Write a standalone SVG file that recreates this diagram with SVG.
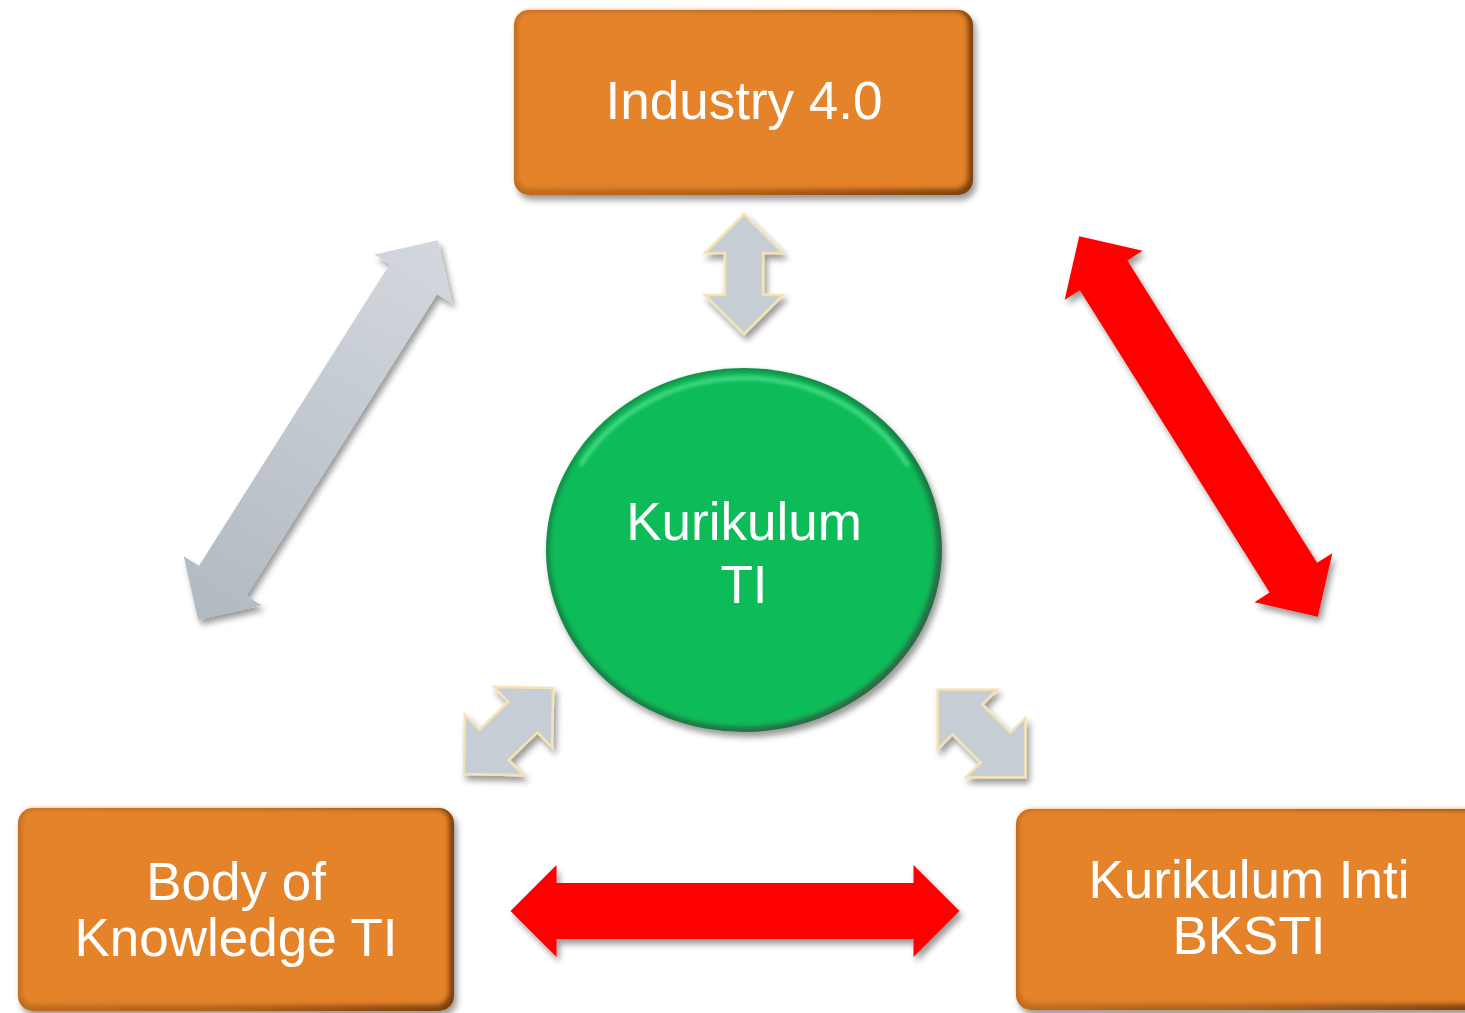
<svg xmlns="http://www.w3.org/2000/svg" xmlns:xlink="http://www.w3.org/1999/xlink" width="1465" height="1013" viewBox="0 0 1465 1013">
  <style>
    .label { font-family: "Liberation Sans", Arial, sans-serif; font-size: 53px; fill: #ffffff; text-anchor: middle; }
    .box-rim { fill: url(#boxRim); }
    .box-body { fill: #e4832a; filter: url(#soft); }
    .box-hl { fill: none; stroke: #f8b46c; stroke-width: 4; stroke-linecap: round; opacity: 0.85; filter: url(#softer); }
    .red { fill: #ff0000; }
    .gray { fill: url(#grayGrad); }
    .small { fill: #c6cdd5; stroke: #f3e3b4; stroke-width: 2.5; stroke-linejoin: miter; }
  </style>
  <defs>
    <filter id="shadow" x="-20%" y="-20%" width="140%" height="140%">
      <feGaussianBlur in="SourceAlpha" stdDeviation="3"/>
      <feOffset dx="3" dy="5" result="o"/>
      <feComponentTransfer><feFuncA type="linear" slope="0.4"/></feComponentTransfer>
      <feMerge><feMergeNode/><feMergeNode in="SourceGraphic"/></feMerge>
    </filter>
    <filter id="soft" x="-5%" y="-5%" width="110%" height="110%">
      <feGaussianBlur stdDeviation="2.5"/>
    </filter>
    <filter id="softer" x="-5%" y="-50%" width="110%" height="200%">
      <feGaussianBlur stdDeviation="1.5"/>
    </filter>
    <linearGradient id="boxRim" x1="0" y1="0" x2="1" y2="0">
      <stop offset="0" stop-color="#c06a1e"/>
      <stop offset="0.5" stop-color="#b0601a"/>
      <stop offset="1" stop-color="#7e400e"/>
    </linearGradient>
    <linearGradient id="grayGrad" x1="0" y1="0" x2="1" y2="0">
      <stop offset="0" stop-color="#b1b9c1"/>
      <stop offset="1" stop-color="#d3d8de"/>
    </linearGradient>
    <linearGradient id="circleRim" x1="0" y1="0" x2="1" y2="1">
      <stop offset="0" stop-color="#14934a"/>
      <stop offset="0.6" stop-color="#1c7a45"/>
      <stop offset="1" stop-color="#3c5a48"/>
    </linearGradient>
    <!-- double-headed block arrows, centred on the origin -->
    <path id="bigArrow" d="M-224.5,0 L-178.5,-46 L-178.5,-28 L178.5,-28 L178.5,-46 L224.5,0 L178.5,46 L178.5,28 L-178.5,28 L-178.5,46 Z"/>
    <path id="smallArrowV" d="M0,-60 L39,-21 L19,-21 L19,21 L39,21 L0,60 L-39,21 L-19,21 L-19,-21 L-39,-21 Z"/>
    <path id="smallArrowD" d="M0,-62 L42,-20 L21,-20 L21,20 L42,20 L0,62 L-42,20 L-21,20 L-21,-20 L-42,-20 Z"/>
  </defs>

  <rect width="1465" height="1013" fill="#ffffff"/>

  <g id="connectors">
    <g filter="url(#shadow)">
      <use xlink:href="#bigArrow" class="gray" transform="translate(318,430) rotate(-57.7)"/>
    </g>
    <g filter="url(#shadow)">
      <use xlink:href="#bigArrow" class="red" transform="translate(1198.5,426.5) rotate(57.9)"/>
    </g>
    <g filter="url(#shadow)">
      <use xlink:href="#bigArrow" class="red" transform="translate(735,911)"/>
    </g>
    <g filter="url(#shadow)">
      <use xlink:href="#smallArrowV" class="small" transform="translate(744,274)"/>
    </g>
    <g filter="url(#shadow)">
      <use xlink:href="#smallArrowD" class="small" transform="translate(508.5,731) rotate(46)"/>
    </g>
    <g filter="url(#shadow)">
      <use xlink:href="#smallArrowD" class="small" transform="translate(981.5,733.5) rotate(-45)"/>
    </g>
  </g>

  <g id="node-industry">
    <g filter="url(#shadow)">
      <rect class="box-rim" x="514" y="10" width="459" height="185" rx="15"/>
    </g>
    <rect class="box-body" x="517" y="11" width="451" height="178" rx="13"/>
    <path class="box-hl" d="M528,20 H958"/>
    <text class="label" x="744" y="119">Industry 4.0</text>
  </g>

  <g id="node-body-of-knowledge">
    <g filter="url(#shadow)">
      <rect class="box-rim" x="18" y="808" width="436" height="203" rx="15"/>
    </g>
    <rect class="box-body" x="21" y="809" width="428" height="196" rx="13"/>
    <path class="box-hl" d="M32,818 H440"/>
    <text class="label" x="236" y="900">Body of</text>
    <text class="label" x="236" y="956">Knowledge TI</text>
  </g>

  <g id="node-kurikulum-inti">
    <g filter="url(#shadow)">
      <rect class="box-rim" x="1016" y="809" width="470" height="201" rx="15"/>
    </g>
    <rect class="box-body" x="1019" y="810" width="462" height="194" rx="13"/>
    <path class="box-hl" d="M1030,819 H1470"/>
    <text class="label" x="1249" y="898">Kurikulum Inti</text>
    <text class="label" x="1249" y="954">BKSTI</text>
  </g>

  <g id="node-kurikulum-ti">
    <g filter="url(#shadow)">
      <ellipse cx="744" cy="550" rx="198" ry="182" fill="url(#circleRim)"/>
    </g>
    <ellipse cx="743" cy="549" rx="193" ry="178" fill="#0abc58" filter="url(#soft)"/>
    <!-- light rim along the upper edge of the disc -->
    <path d="M581.2,464 A188,172 0 0 1 906.8,464" fill="none" stroke="#4fe08e" stroke-width="5" stroke-linecap="round" opacity="0.7" filter="url(#softer)"/>
    <text class="label" x="744" y="540">Kurikulum</text>
    <text class="label" x="744" y="603">TI</text>
  </g>
</svg>
